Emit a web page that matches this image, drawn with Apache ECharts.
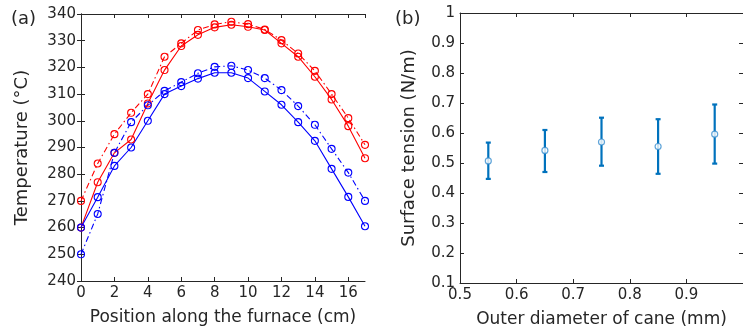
<!DOCTYPE html>
<html><head><meta charset="utf-8">
<script src="https://cdn.jsdelivr.net/npm/echarts@6/dist/echarts.min.js"></script>
<style>html,body{margin:0;padding:0;background:#fff}#c{width:743px;height:333px}</style>
</head><body><div id="c"></div>
<script>
// Panel (a): temperature along the furnace
var positions = [0,1,2,3,4,5,6,7,8,9,10,11,12,13,14,15,16,17];
var redSolid  = [260,277,288,293,306.5,319,328,332.2,335,336,335.2,334,329,324,316.5,308,298,286];
var redDash   = [270,284,295,303,310,324,329,334,336.1,337.1,336.2,334.2,330.2,325.2,318.7,310,301,291];
var blueSolid = [260,271.4,283.1,290,300,310,313,315.8,318,318,316,311,306,299.5,292.5,282,271.5,260.5];
var blueDash  = [250,265.1,288,299.5,305.8,311.2,314.5,317.8,320.2,320.6,319,316,311.5,305.5,298.5,289.5,280.6,270];
// Panel (b): surface tension vs cane diameter
var diameters = [0.55,0.65,0.75,0.85,0.95];
var tension   = [0.507,0.542,0.570,0.555,0.596];
var tensionLo = [0.447,0.470,0.491,0.464,0.498];
var tensionHi = [0.568,0.610,0.651,0.646,0.695];

var FONT = "'DejaVu Sans', sans-serif";
var TXT = '#262626';
function pairs(xs, ys){ return xs.map(function(x,i){return [x, ys[i]];}); }

var axisLineStyle = {show:true, lineStyle:{color:TXT, width:1}};
var tickIn = {show:true, inside:true, length:4, lineStyle:{color:TXT, width:1}};
var lblStyle = {color:TXT, fontSize:15, fontFamily:FONT};
var nameStyle = {color:TXT, fontSize:17, fontFamily:FONT};
var yNameStyle = {color:TXT, fontSize:18, fontFamily:FONT};

function lineSeries(data, color, dashed){
  return {
    type:'line', xAxisIndex:0, yAxisIndex:0, data:pairs(positions, data),
    symbol:'circle', symbolSize:7, showSymbol:true,
    itemStyle:{color:'rgba(0,0,0,0)', borderColor:color, borderWidth:1.1},
    lineStyle:{color:color, width:1.1, type: dashed ? [6,3,1.5,3] : 'solid'},
    animation:false, z:3
  };
}

var errData = diameters.map(function(d,i){return [d, tensionLo[i], tensionHi[i]];});

var option = {
  animation:false,
  backgroundColor:'#fff',
  textStyle:{fontFamily:FONT},
  graphic:[
    {type:'text', left:11, top:10, style:{text:'(a)', font:'18px '+FONT, fill:TXT}},
    {type:'text', left:395, top:10, style:{text:'(b)', font:'18px '+FONT, fill:TXT}}
  ],
  grid:[
    {left:81, top:14, width:284, height:267, containLabel:false},
    {left:460, top:13, width:285, height:270, containLabel:false}
  ],
  xAxis:[
    {gridIndex:0, type:'value', min:0, max:17, interval:2, position:'bottom',
     name:'Position along the furnace (cm)', nameLocation:'middle', nameGap:28,
     nameTextStyle:nameStyle,
     axisLine:axisLineStyle, axisTick:tickIn, splitLine:{show:false},
     axisLabel:Object.assign({margin:5, showMaxLabel:false, formatter:function(v){return v%2===0? String(v):'';}}, lblStyle)},
    {gridIndex:0, type:'value', min:0, max:17, interval:2, position:'top',
     axisLine:axisLineStyle, axisTick:tickIn, axisLabel:{show:false}, splitLine:{show:false}},
    {gridIndex:1, type:'value', min:0.5, max:1.0, interval:0.1, position:'bottom',
     name:'Outer diameter of cane (mm)', nameLocation:'middle', nameGap:28,
     nameTextStyle:nameStyle,
     axisLine:axisLineStyle, axisTick:tickIn, splitLine:{show:false},
     axisLabel:Object.assign({margin:5, showMaxLabel:false, formatter:function(v){return v.toFixed(1);}}, lblStyle)},
    {gridIndex:1, type:'value', min:0.5, max:1.0, interval:0.1, position:'top',
     axisLine:axisLineStyle, axisTick:tickIn, axisLabel:{show:false}, splitLine:{show:false}}
  ],
  yAxis:[
    {gridIndex:0, type:'value', min:240, max:340, interval:10, position:'left',
     name:'Temperature (°C)', nameLocation:'middle', nameGap:50,
     nameTextStyle:yNameStyle,
     axisLine:axisLineStyle, axisTick:tickIn, splitLine:{show:false},
     axisLabel:Object.assign({margin:5}, lblStyle)},
    {gridIndex:0, type:'value', min:240, max:340, interval:10, position:'right',
     axisLine:axisLineStyle, axisTick:tickIn, axisLabel:{show:false}, splitLine:{show:false}},
    {gridIndex:1, type:'value', min:0.1, max:1.0, interval:0.1, position:'left',
     name:'Surface tension (N/m)', nameLocation:'middle', nameGap:42,
     nameTextStyle:yNameStyle,
     axisLine:axisLineStyle, axisTick:tickIn, splitLine:{show:false},
     axisLabel:Object.assign({margin:5, formatter:function(v){return Math.abs(v-1)<1e-9?'1':v.toFixed(1);}}, lblStyle)},
    {gridIndex:1, type:'value', min:0.1, max:1.0, interval:0.1, position:'right',
     axisLine:axisLineStyle, axisTick:tickIn, axisLabel:{show:false}, splitLine:{show:false}}
  ],
  series:[
    lineSeries(redDash, '#ff0000', true),
    lineSeries(redSolid, '#ff0000', false),
    lineSeries(blueDash, '#0000ff', true),
    lineSeries(blueSolid, '#0000ff', false),
    {
      type:'custom', xAxisIndex:2, yAxisIndex:2, data:errData, z:3,
      renderItem:function(params, api){
        var x = api.value(0);
        var lo = api.coord([x, api.value(1)]);
        var hi = api.coord([x, api.value(2)]);
        var cw = 2.5;
        var st = {stroke:'#0072bd', lineWidth:2.2};
        return {type:'group', children:[
          {type:'line', shape:{x1:lo[0], y1:lo[1], x2:hi[0], y2:hi[1]}, style:st},
          {type:'line', shape:{x1:lo[0]-cw, y1:lo[1], x2:lo[0]+cw, y2:lo[1]}, style:st},
          {type:'line', shape:{x1:hi[0]-cw, y1:hi[1], x2:hi[0]+cw, y2:hi[1]}, style:st}
        ]};
      }
    },
    {
      type:'scatter', xAxisIndex:2, yAxisIndex:2, data:pairs(diameters, tension), z:4,
      symbol:'circle', symbolSize:6,
      itemStyle:{color:'#ffffff', borderColor:'#3a8fd0', borderWidth:1.2}
    }
  ]
};
var chart = echarts.init(document.getElementById('c'), null, {renderer:'canvas'});
chart.setOption(option);
</script></body></html>
